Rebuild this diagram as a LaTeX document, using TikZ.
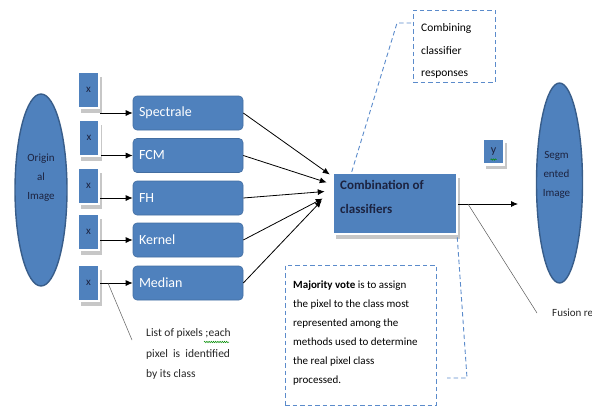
\documentclass[tikz,border=0pt]{standalone}
\usepackage{fontspec}
\setmainfont{Carlito}
\usetikzlibrary{shapes.geometric,shadows,arrows.meta,decorations.pathmorphing,calc}
\definecolor{office}{HTML}{4F81BD}
\definecolor{officedark}{HTML}{385D8A}
\definecolor{calloutblue}{HTML}{5B8BCB}
\definecolor{navytext}{HTML}{1C2340}

\begin{document}
\begin{tikzpicture}[x=1pt,y=-1pt,
  blob/.style={ellipse, fill=office, draw=officedark, line width=1.4pt, inner sep=0pt},
  blobtext/.style={align=center, text=navytext, inner sep=0pt,
    font=\fontsize{11}{19}\selectfont},
  method/.style={rectangle, rounded corners=4pt, fill=office, draw=office!85!black,
    line width=0.6pt, text=white, minimum width=110pt, minimum height=34pt,
    text width=98pt, align=left, inner xsep=5pt, font=\fontsize{14}{16}\selectfont},
  framed/.style={rectangle, fill=office, draw=white, line width=2.5pt,
    drop shadow={shadow xshift=2.5pt, shadow yshift=-4.5pt, fill=black!22, opacity=1}},
  xbox/.style={framed, minimum width=21pt, minimum height=36pt, inner sep=0pt,
    text=navytext, font=\fontsize{11}{12}\selectfont},
  callout/.style={draw=calloutblue, line width=0.9pt, dash pattern=on 4.5pt off 3pt},
  notebox/.style={callout, rectangle, inner sep=0pt},
  notetext/.style={anchor=north west, align=left, inner sep=0pt},
  arr/.style={line width=0.8pt, -{Latex[length=7pt,width=6pt]}},
  leader/.style={line width=0.5pt, draw=black!65},
  squiggle/.style={draw=green!55!black, line width=0.5pt, decorate,
    decoration={snake, amplitude=0.7pt, segment length=2.2pt}}
]
\useasboundingbox (0,0) rectangle (592,407);

% input and output images
\node[blob, minimum width=52pt, minimum height=192pt] (orig) at (41,190) {};
\node[blobtext] (origtext) at ($(orig.center)+(0,-12)$) {Origin\\al\\Image};
\node[blob, minimum width=46pt, minimum height=200pt] (seg) at (559.5,183) {};
\node[blobtext] (segtext) at ($(seg.center)+(-3,-8)$) {Segm\\ented\\Image};

% pixel lists
\node[xbox] (x1) at (88.5,90) {x};
\node[xbox] (x2) at (89,138) {x};
\node[xbox] (x3) at (88.5,186) {x};
\node[xbox] (x4) at (88.5,232) {x};
\node[xbox] (x5) at (88.5,283) {x};

% classification methods
\node[method] (m1) at (188,113) {Spectrale};
\node[method] (m2) at (188,155.5) {FCM};
\node[method] (m3) at (188,198) {FH};
\node[method] (m4) at (188,240) {Kernel};
\node[method] (m5) at (188,283) {Median};

\foreach \i in {1,...,5}
  \draw[arr] (m\i.west -| x\i.east) -- (m\i.west);

% fusion of the classifiers
\node[framed, minimum width=124pt, minimum height=61pt] (comb) at (395,203.5) {};
\node[notetext, text=navytext, font=\fontsize{13}{24}\selectfont\bfseries]
  (combtext) at (340,180) {Combination of\\classifiers};

\coordinate (t1) at ($(comb.west)+(-2,-29)$);
\coordinate (t2) at ($(comb.west)+(-5,-21)$);
\coordinate (t3) at ($(comb.west)+(-7,-12)$);
\coordinate (t4) at ($(comb.west)+(-9,-5)$);
\coordinate (t5) at ($(comb.west)+(-10,-3)$);
\foreach \i in {1,...,5}
  \draw[arr] (m\i.east) -- (t\i);

\node[xbox, minimum width=21pt, minimum height=26pt, font=\fontsize{12}{14}\selectfont] (y) at (493.5,151.5) {y};
\draw[squiggle] ($(y.center)+(-3,8)$) -- ($(y.center)+(3,8)$);

\coordinate (segin) at (518,204);
\draw[arr] (comb.east |- segin) -- (segin);

% notes
\node[notebox, minimum width=82pt, minimum height=72pt] (combine) at (454,46) {};
\node[notetext, font=\fontsize{11.5}{22.5}\selectfont] (combinetext) at (421,23.5)
  {Combining\\classifier\\responses};
\coordinate (cbend) at (397,23);
\draw[callout] ($(comb.north west)+(20,0)$) -- (cbend) -- (combine.west |- cbend);

\node[notebox, minimum width=151pt, minimum height=140pt] (vote) at (360.5,335) {};
\node[notetext, font=\fontsize{11}{19}\selectfont] (votetext) at (293,281)
  {\textbf{Majority vote} is to assign\\the pixel to the class most\\represented among the\\methods used to determine\\the real pixel class\\processed.};
\coordinate (vbend) at (467,378);
\coordinate (vend) at (447,378);
\draw[callout] ($(comb.south east)+(-1,2)$) -- (vbend) -- (vend);

\node[notetext, text=black!85, font=\fontsize{11.5}{20.5}\selectfont] (list) at (146,328.5)
  {List of pixels ;each\\pixel~ is~ identified\\by its class};
\draw[squiggle] (204,342) -- (229,342);
\coordinate (lstart) at (108,283);
\coordinate (lend) at (132,340);
\draw[leader] (lstart) -- (lend);

\node[anchor=west, inner sep=0pt, text=black!85,
  font=\fontsize{11}{12}\selectfont] (fusion) at (552,313) {Fusion re};
\coordinate (fstart) at (468,204);
\coordinate (fend) at (537,313);
\draw[leader] (fstart) -- (fend);
\end{tikzpicture}
\end{document}
